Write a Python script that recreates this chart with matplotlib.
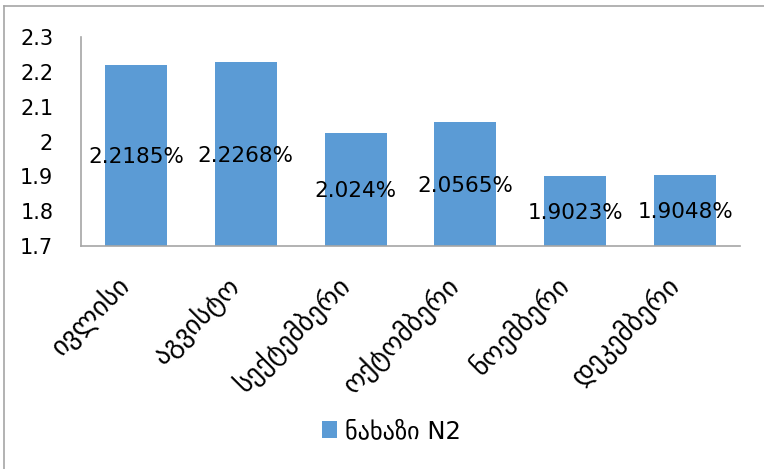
import matplotlib
matplotlib.use("Agg")
import matplotlib.pyplot as plt
from matplotlib.lines import Line2D
from matplotlib.ticker import FuncFormatter

# data
months = ["ივლისი", "აგვისტო", "სექტემბერი", "ოქტომბერი", "ნოემბერი", "დეკემბერი"]
values = [2.2185, 2.2268, 2.024, 2.0565, 1.9023, 1.9048]
value_labels = ["2.2185%", "2.2268%", "2.024%", "2.0565%", "1.9023%", "1.9048%"]
series_name = "ნახაზი N2"
y_min, y_max = 1.7, 2.3

bar_color = "#5b9bd5"
line_gray = "#a6a6a6"

plt.rcParams["font.family"] = ["DejaVu Sans"]

fig = plt.figure(figsize=(7.64, 4.69), dpi=100)
ax = fig.add_axes([81 / 764, 1 - 246 / 469, (740 - 81) / 764, (246 - 37) / 469])

x = list(range(len(months)))
bars = ax.bar(x, [v - y_min for v in values], bottom=y_min, width=0.565,
              color=bar_color, label=series_name)

# data labels in the middle of each bar
for xi, v, txt in zip(x, values, value_labels):
    ax.text(xi, (v + y_min) / 2 - 0.005, txt, ha="center", va="center",
            fontsize=15.5, color="black")

ax.set_xlim(-0.5, len(months) - 0.5)
ax.set_ylim(y_min, y_max)
ax.set_yticks([1.7, 1.8, 1.9, 2.0, 2.1, 2.2, 2.3])
ax.yaxis.set_major_formatter(FuncFormatter(lambda v, p: "%g" % round(v, 1)))
ax.tick_params(axis="y", length=0, pad=20, labelsize=15)
ax.set_xticks(x)
ax.set_xticklabels(months, rotation=45, ha="right", va="top", fontsize=19.5)
ax.tick_params(axis="x", length=0, pad=18)

for side in ["top", "right"]:
    ax.spines[side].set_visible(False)
for side in ["left", "bottom"]:
    ax.spines[side].set_color(line_gray)
    ax.spines[side].set_linewidth(1.2)

leg = fig.legend(handles=[bars], labels=[series_name], loc="center",
                 bbox_to_anchor=(391 / 764, 1 - 431 / 469), frameon=False,
                 fontsize=17.5, handlelength=0.65, handleheight=0.65,
                 handletextpad=0.3)

# chart-area border (only top and left visible in the crop)
fig.add_artist(Line2D([4 / 764, 4 / 764], [0, 1 - 6 / 469],
                      transform=fig.transFigure, color=line_gray, lw=1.2))
fig.add_artist(Line2D([4 / 764, 1], [1 - 6 / 469, 1 - 6 / 469],
                      transform=fig.transFigure, color=line_gray, lw=1.2))

fig.savefig("out.png", dpi=100)
